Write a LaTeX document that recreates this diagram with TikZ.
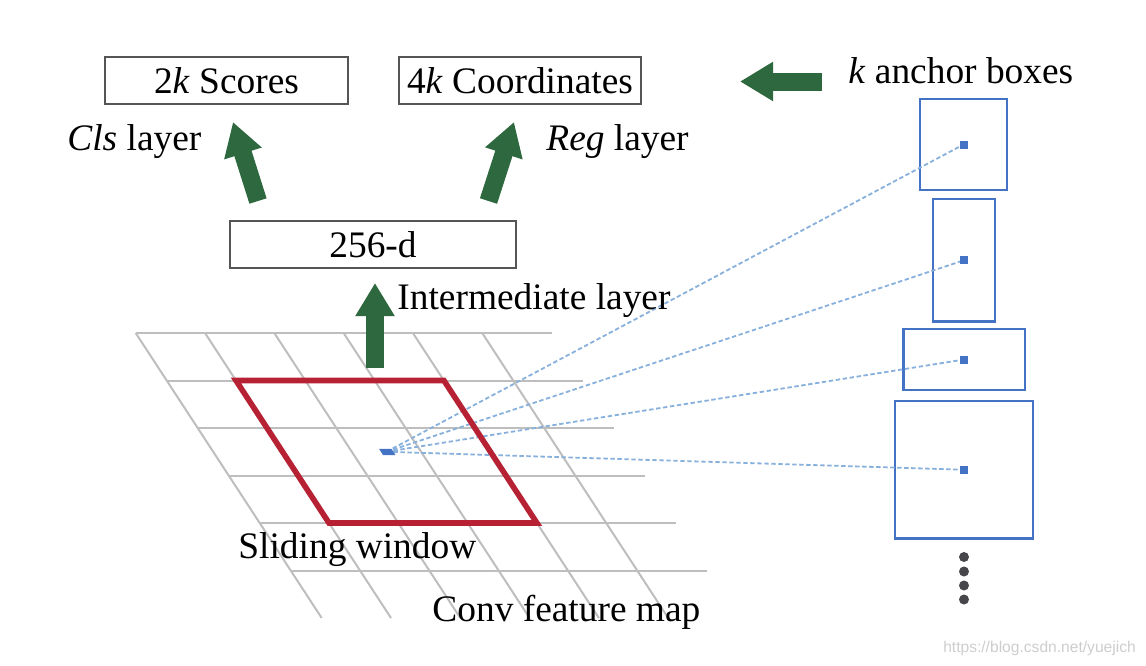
\documentclass[tikz,border=0pt]{standalone}
\usepackage{fontspec}
\setmainfont{Liberation Serif}
\newfontfamily\wmfont{Liberation Sans}
\usetikzlibrary{arrows.meta}
\definecolor{arrowgreen}{RGB}{45,104,62}
\definecolor{windowred}{RGB}{183,33,52}
\definecolor{gridgray}{RGB}{190,190,190}
\definecolor{anchorblue}{RGB}{68,114,196}
\definecolor{rayblue}{RGB}{135,176,220}
\definecolor{boxframe}{RGB}{85,85,85}
\definecolor{dotgray}{RGB}{70,70,75}
\definecolor{wmgray}{RGB}{205,205,205}
\tikzset{
  lbl/.style={inner sep=0pt, font=\fontsize{18.7}{22}\selectfont},
  layerbox/.style={draw=boxframe, line width=1.2pt, minimum height=23.5pt, inner sep=0pt,
    font=\fontsize{18.7}{22}\selectfont},
  anchorbox/.style={draw=anchorblue, line width=1.4pt, inner sep=0pt},
  bigarrow/.style={draw=arrowgreen, line width=9pt, -{Triangle[length=16.5pt,width=18.5pt]}},
  gridline/.style={draw=gridgray, line width=1pt},
  window/.style={draw=windowred, line width=2.8pt, line join=miter},
  ray/.style={draw=rayblue, line width=0.9pt, dash pattern=on 2.2pt off 1.3pt}
}
\begin{document}
\begin{tikzpicture}[x=0.5pt,y=-0.5pt]
  \useasboundingbox (0,0) rectangle (1146,665);
  % feature map grid
  \begin{scope}[shift={(135.7,333)}, x={(34.65pt,0pt)}, y={(15.5pt,-23.75pt)}]
    \foreach \j in {0,...,5} \draw[gridline] (0,\j) -- (6,\j);
    \foreach \i in {0,...,5} \draw[gridline] (\i,0) -- (\i,6);
    \coordinate (ctr) at (2.5,2.5);
  \end{scope}
  % anchor boxes
  \node[anchorbox, minimum width=43.5pt, minimum height=45.5pt] (a1) at (963.5,144.5) {};
  \node[anchorbox, minimum width=31pt, minimum height=61.25pt] (a2) at (964,260.25) {};
  \node[anchorbox, minimum width=60.75pt, minimum height=30.5pt] (a3) at (964.25,359.5) {};
  \node[anchorbox, minimum width=69pt, minimum height=68.75pt] (a4) at (964,469.75) {};
  \foreach \a in {a1,a2,a3,a4} {
    \draw[ray] (ctr) -- (\a.center);
    \fill[anchorblue] (\a.center) +(-2pt,-2pt) rectangle +(2pt,2pt);
  }
  \begin{scope}[shift={(135.7,333)}, x={(34.65pt,0pt)}, y={(15.5pt,-23.75pt)}]
    \draw[window] (1,1) -- (4,1) -- (4,4) -- (1,4) -- cycle;
    \fill[anchorblue] (2.42,2.44) -- (2.6,2.44) -- (2.6,2.57) -- (2.42,2.57) -- cycle;
  \end{scope}
  \foreach \y in {557,571.5,585.5,599.5} \fill[dotgray] (964,\y) circle (2.5pt);
  % layers
  \node[layerbox, minimum width=121.5pt] (scores) at (226.5,80.5) {2\textit{k} Scores};
  \node[layerbox, minimum width=121pt] (coords) at (520,80.5) {4\textit{k} Coordinates};
  \node[layerbox, minimum width=143pt] (hid) at (373,244.5) {256-d};
  \node[lbl, anchor=base west] (cls) at (67,150) {\textit{Cls} layer};
  \node[lbl, anchor=base west] (reg) at (546,150) {\textit{Reg} layer};
  \node[lbl, anchor=base west] (inter) at (397,309) {Intermediate layer};
  \node[lbl, anchor=base west] (anc) at (848,83) {\textit{k} anchor boxes};
  \node[lbl, anchor=base west] (slide) at (238,558) {Sliding window};
  \node[lbl, anchor=base west] (conv) at (432,621) {Conv feature map};
  \node[inner sep=0pt, text=wmgray, font=\wmfont\fontsize{7.8}{9}\selectfont] (wm) at (1039.5,648) {https://blog.csdn.net/yuejich};
  % arrows
  \coordinate (clsfoot) at (258,201);
  \coordinate (clstip) at (233,122);
  \coordinate (regfoot) at (488.5,201);
  \coordinate (regtip) at (514,122);
  \coordinate (midfoot) at (375,368);
  \coordinate (midtip) at (375,283);
  \coordinate (ancfoot) at (822,81.5);
  \coordinate (anctip) at (740,81.5);
  \draw[bigarrow] (clsfoot) -- (clstip);
  \draw[bigarrow] (regfoot) -- (regtip);
  \draw[bigarrow] (midfoot) -- (midtip);
  \draw[bigarrow] (ancfoot) -- (anctip);
\end{tikzpicture}
\end{document}
